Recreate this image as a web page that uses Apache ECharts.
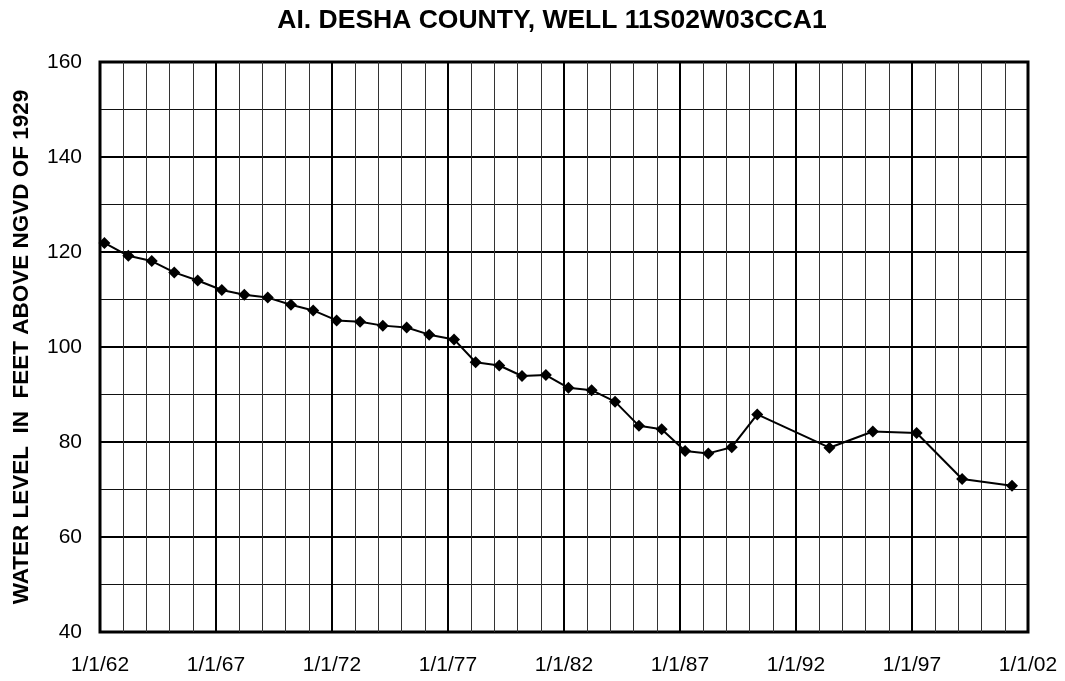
<!DOCTYPE html>
<html lang="en">
<head>
    <meta charset="UTF-8">
    <title>AI. Desha County, Well 11S02W03CCA1</title>
    <script src="https://cdn.jsdelivr.net/npm/echarts@6/dist/echarts.min.js"></script>
    <style>
        html, body { margin: 0; padding: 0; background: #fff; }
        #chart { width: 1065px; height: 681px; }
    </style>
</head>
<body>
<div id="chart"></div>
<script type="text/javascript">
    // measurement dates as decimal years
    const sample_years = [
        1962.19, 1963.22, 1964.23, 1965.20, 1966.21, 1967.25, 1968.22, 1969.23,
        1970.23, 1971.19, 1972.20, 1973.21, 1974.19, 1975.22, 1976.19, 1977.26,
        1978.19, 1979.21, 1980.19, 1981.22, 1982.19, 1983.19, 1984.20, 1985.23,
        1986.21, 1987.22, 1988.22, 1989.23, 1990.33, 1993.44, 1995.31, 1997.20,
        1999.16, 2001.31
    ];
    // water level, feet above NGVD of 1929
    const water_levels = [
        121.9, 119.2, 118.1, 115.7, 114.0, 112.0, 111.0, 110.4,
        108.9, 107.7, 105.6, 105.3, 104.5, 104.1, 102.6, 101.6,
        96.8, 96.1, 93.9, 94.1, 91.4, 90.9, 88.5, 83.4,
        82.7, 78.1, 77.6, 78.9, 85.8, 78.8, 82.2, 81.9,
        72.2, 70.8
    ];
    const x_tick_years = [1962, 1967, 1972, 1977, 1982, 1987, 1992, 1997, 2002];
    const x_tick_labels = ['1/1/62', '1/1/67', '1/1/72', '1/1/77', '1/1/82', '1/1/87', '1/1/92', '1/1/97', '1/1/02'];
    const y_ticks = [40, 60, 80, 100, 120, 140, 160];

    const chart = echarts.init(document.getElementById('chart'), null, {renderer: 'canvas'});
    const font = 'Liberation Sans, Arial, sans-serif';

    const option = {
        animation: false,
        backgroundColor: '#fff',
        title: {
            text: 'AI. DESHA COUNTY, WELL 11S02W03CCA1',
            left: 547,
            top: 2,
            textAlign: 'center',
            textStyle: {fontFamily: font, fontSize: 26.5, fontWeight: 'bold', color: '#000'}
        },
        grid: {
            left: 100, top: 62, right: 37, bottom: 49,
            show: true, borderColor: '#000', borderWidth: 3, backgroundColor: 'transparent'
        },
        xAxis: {
            type: 'value',
            min: x_tick_years[0],
            max: x_tick_years[x_tick_years.length - 1],
            interval: 5,
            axisLine: {show: false},
            axisTick: {show: false},
            axisLabel: {
                margin: 23,
                fontFamily: font, fontSize: 21, color: '#000',
                formatter: (v) => x_tick_labels[x_tick_years.indexOf(Math.round(v))] || ''
            },
            splitLine: {show: true, lineStyle: {color: '#000', width: 2}},
            minorTick: {show: false, splitNumber: 5},
            minorSplitLine: {show: true, lineStyle: {color: '#333', width: 1}}
        },
        yAxis: {
            type: 'value',
            min: y_ticks[0],
            max: y_ticks[y_ticks.length - 1],
            interval: 20,
            name: 'WATER LEVEL  IN  FEET ABOVE NGVD OF 1929',
            nameLocation: 'middle',
            nameGap: 67,
            nameTextStyle: {fontFamily: font, fontSize: 22.5, fontWeight: 'bold', color: '#000'},
            axisLine: {show: false},
            axisTick: {show: false},
            axisLabel: {margin: 18, fontFamily: font, fontSize: 21, color: '#000'},
            splitLine: {show: true, lineStyle: {color: '#000', width: 2}},
            minorTick: {show: false, splitNumber: 2},
            minorSplitLine: {show: true, lineStyle: {color: '#111', width: 1}}
        },
        series: [{
            name: 'Water level',
            type: 'line',
            data: sample_years.map((yr, i) => [yr, water_levels[i]]),
            symbol: 'diamond',
            symbolSize: 12,
            showAllSymbol: true,
            lineStyle: {color: '#000', width: 2},
            itemStyle: {color: '#000'},
            z: 5
        }]
    };
    chart.setOption(option);
</script>
</body>
</html>
